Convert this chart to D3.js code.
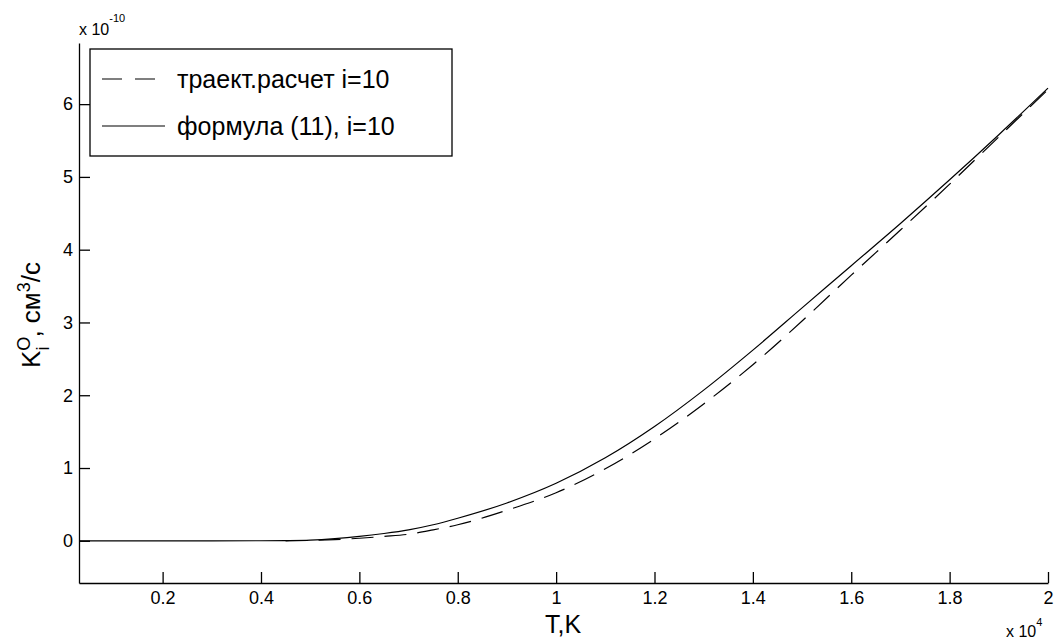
<!DOCTYPE html>
<html>
<head>
<meta charset="utf-8">
<script src="https://cdn.jsdelivr.net/npm/d3@7"></script>
<style>
  body { margin: 0; background: #fff; }
  svg { display: block; font-family: Arial, "Liberation Sans", sans-serif; }
</style>
</head>
<body>
<svg width="1055" height="640"></svg>
<script>
// T in K, K in 1e-10 cm^3/s
var tempSolid = [300, 3000, 4000, 4500, 5000, 5500, 6000, 6500, 7000, 7500, 8000, 9000, 10000, 11000, 12000, 13000, 14000, 15000, 16000, 17000, 18000, 19000, 20000];
var kSolid = [0, 0, 0.0005, 0.003, 0.01, 0.03, 0.06, 0.10, 0.15, 0.22, 0.31, 0.52, 0.79, 1.14, 1.57, 2.07, 2.62, 3.20, 3.78, 4.36, 4.96, 5.58, 6.22];

var tempDash = [4500, 5000, 5500, 6000, 6500, 7000, 7500, 8000, 9000, 10000, 11000, 12000, 13000, 14000, 15000, 16000, 17000, 18000, 19000, 20000];
var kDash = [0, 0.005, 0.015, 0.035, 0.06, 0.09, 0.15, 0.22, 0.42, 0.66, 0.99, 1.40, 1.88, 2.42, 3.02, 3.65, 4.27, 4.90, 5.55, 6.20];

var xTicks = [2000, 4000, 6000, 8000, 10000, 12000, 14000, 16000, 18000, 20000];
var yTicks = [0, 1, 2, 3, 4, 5, 6];
var legendNames = ["траект.расчет i=10", "формула (11), i=10"];

var svg = d3.select("svg");
var margin = { left: 79, right: 1048, top: 43, bottom: 583 };

var x = d3.scaleLinear().domain([300, 20000]).range([margin.left, margin.right]);
var y = d3.scaleLinear().domain([-0.58, 6.84]).range([margin.bottom, margin.top]);

// axes, ticks point inward like matlab
svg.append("g")
	.attr("transform", "translate(0," + margin.bottom + ")")
	.call(d3.axisBottom(x).tickValues(xTicks).tickSizeInner(-11).tickSizeOuter(0).tickPadding(8)
		.tickFormat(function (d) { return d3.format("~g")(d / 10000); }));
svg.append("g")
	.attr("transform", "translate(" + margin.left + ",0)")
	.call(d3.axisLeft(y).tickValues(yTicks).tickSizeInner(-11).tickSizeOuter(0).tickPadding(6));

svg.selectAll(".domain, .tick line").attr("stroke", "#000").attr("stroke-width", 1.3);
svg.selectAll(".tick text").attr("font-size", 18).attr("fill", "#000")
	.attr("font-family", "Arial, 'Liberation Sans', sans-serif");

var line = d3.line().curve(d3.curveMonotoneX);

svg.append("path")
	.attr("d", line(tempSolid.map(function (t, i) { return [x(t), y(kSolid[i])]; })))
	.attr("fill", "none").attr("stroke", "#000").attr("stroke-width", 1.2);

svg.append("path")
	.attr("d", line(tempDash.map(function (t, i) { return [x(t), y(kDash[i])]; })))
	.attr("fill", "none").attr("stroke", "#000").attr("stroke-width", 1.2)
	.attr("stroke-dasharray", "22,11");

// multipliers
var m1 = svg.append("text").attr("x", 79).attr("y", 35).attr("font-size", 16);
m1.append("tspan").text("x 10");
m1.append("tspan").attr("font-size", 11).attr("dy", -13).text("-10");

var m2 = svg.append("text").attr("x", 1006).attr("y", 637).attr("font-size", 16);
m2.append("tspan").text("x 10");
m2.append("tspan").attr("font-size", 11).attr("dy", -11).text("4");

// axis labels
svg.append("text").attr("x", 563).attr("y", 633).attr("text-anchor", "middle")
	.attr("font-size", 25).text("T,K");

var yl = svg.append("text").attr("transform", "translate(40,315) rotate(-90)")
	.attr("text-anchor", "middle").attr("font-size", 26);
yl.append("tspan").text("K");
yl.append("tspan").attr("font-size", 18).attr("dy", -10).text("O");
yl.append("tspan").attr("font-size", 18).attr("dx", -14).attr("dy", 19).text("i");
yl.append("tspan").attr("dx", 9).attr("dy", -9).text(", см");
yl.append("tspan").attr("font-size", 18).attr("dy", -10).text("3");
yl.append("tspan").attr("dy", 10).text("/с");

// legend
var lg = svg.append("g");
lg.append("rect").attr("x", 90).attr("y", 49).attr("width", 362).attr("height", 107)
	.attr("fill", "#fff").attr("stroke", "#000").attr("stroke-width", 1.3);
var rowsY = [79, 126];
legendNames.forEach(function (name, i) {
	lg.append("line").attr("x1", 102).attr("x2", 165).attr("y1", rowsY[i]).attr("y2", rowsY[i])
		.attr("stroke", "#000").attr("stroke-width", 1.2)
		.attr("stroke-dasharray", i === 0 ? "20,13" : null);
	lg.append("text").attr("x", 177).attr("y", rowsY[i] + 9).attr("font-size", 25).text(name);
});
</script>
</body>
</html>
